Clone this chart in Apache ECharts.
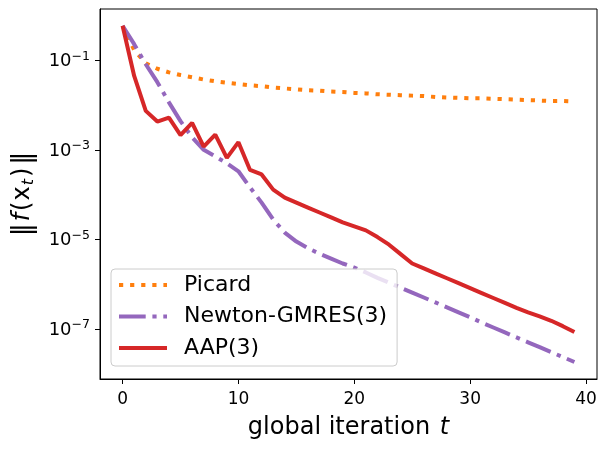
<!DOCTYPE html>
<html>
<head>
    <meta charset="utf-8">
    <title>residual</title>
    <script src="https://cdn.jsdelivr.net/npm/echarts@6/dist/echarts.min.js"></script>
    <style>
        html, body { margin: 0; padding: 0; background: #fff; }
        #chart1 { width: 607px; height: 451px; }
    </style>
</head>
<body>
<div id="chart1"></div>
<script type="text/javascript">
    // global iteration t
    const iterations = [0, 1, 2, 3, 4, 5, 6, 7, 8, 9, 10, 11, 12, 13, 14, 15, 16, 17, 18, 19,
        20, 21, 22, 23, 24, 25, 26, 27, 28, 29, 30, 31, 32, 33, 34, 35, 36, 37, 38, 39];

    // log10 ||f(x_t)||
    const picardLog = [-0.23, -0.77, -1.07, -1.19, -1.27, -1.33, -1.38, -1.43, -1.47, -1.50,
        -1.53, -1.56, -1.58, -1.61, -1.63, -1.65, -1.67, -1.68, -1.70, -1.71,
        -1.73, -1.74, -1.76, -1.77, -1.78, -1.79, -1.80, -1.82, -1.83, -1.84,
        -1.85, -1.85, -1.86, -1.87, -1.88, -1.89, -1.90, -1.91, -1.91, -1.92];
    const newtonLog = [-0.23, -0.64, -1.09, -1.49, -1.94, -2.36, -2.72, -3.00, -3.15, -3.30,
        -3.48, -3.84, -4.18, -4.56, -4.85, -5.05, -5.20, -5.32, -5.43, -5.54,
        -5.63, -5.74, -5.86, -5.97, -6.08, -6.19, -6.30, -6.41, -6.52, -6.63,
        -6.74, -6.86, -6.97, -7.08, -7.19, -7.30, -7.41, -7.52, -7.63, -7.74];
    const aapLog = [-0.23, -1.35, -2.13, -2.37, -2.28, -2.67, -2.40, -2.93, -2.66, -3.18,
        -2.83, -3.45, -3.55, -3.89, -4.07, -4.18, -4.29, -4.40, -4.51, -4.62,
        -4.71, -4.80, -4.95, -5.12, -5.33, -5.54, -5.65, -5.76, -5.87, -5.98,
        -6.09, -6.20, -6.31, -6.42, -6.53, -6.63, -6.72, -6.82, -6.94, -7.07];

    const xTicks = [0, 10, 20, 30, 40];
    const yTicks = [-7, -5, -3, -1];   // decades shown as 10^k

    const font = 'DejaVu Sans';

    function pairs(ys) {
        return iterations.map((t, i) => [t, ys[i]]);
    }

    let myChart1 = echarts.init(document.getElementById('chart1'), null, {renderer: 'canvas'});

    myChart1.setOption({
        animation: false,
        backgroundColor: '#fff',
        grid: {
            left: 100, right: 10, top: 9, bottom: 72,
            show: true, borderColor: '#000', borderWidth: 1, backgroundColor: 'transparent'
        },
        legend: {
            orient: 'vertical',
            left: 111, top: 269,
            padding: [5, 10, 7, 6],
            itemWidth: 48, itemHeight: 14, itemGap: 9.5,
            backgroundColor: 'rgba(255,255,255,0.8)',
            borderColor: '#cccccc', borderWidth: 1, borderRadius: 4,
            selectedMode: false,
            itemStyle: {opacity: 0},
            lineStyle: {width: 4},
            textStyle: {fontFamily: font, fontSize: 22, lineHeight: 22, color: '#000', padding: [0, 0, 0, 12]},
            data: ['Picard', 'Newton-GMRES(3)', 'AAP(3)']
        },
        xAxis: {
            type: 'value',
            min: -1.95, max: 40.95,
            name: 'global iteration {i|t}',
            nameLocation: 'middle',
            nameGap: 37,
            nameTextStyle: {
                fontFamily: font, fontSize: 24, color: '#000',
                rich: {i: {fontFamily: font, fontSize: 24, fontStyle: 'italic', color: '#000', padding: [0, 0, 0, 2]}}
            },
            axisLine: {show: true, onZero: false, lineStyle: {color: '#000', width: 1}},
            axisTick: {show: true, length: 5, lineStyle: {color: '#000', width: 1}, customValues: xTicks},
            axisLabel: {fontFamily: font, fontSize: 17, color: '#000', margin: 12, customValues: xTicks},
            splitLine: {show: false}
        },
        yAxis: {
            type: 'value',
            min: -8.12, max: 0.145,
            name: '{d|‖}{i|f}{p|(}x{t|t}{p|)}{d|‖}',
            nameLocation: 'middle',
            nameGap: 63,
            nameTextStyle: {
                fontFamily: font, fontSize: 24, color: '#000', lineHeight: 28,
                rich: {
                    d: {fontFamily: font, fontSize: 26, color: '#000', lineHeight: 28, padding: [0, 2, 0, 2]},
                    p: {fontFamily: font, fontSize: 24, color: '#000', lineHeight: 28, padding: [0, 1, 0, 1]},
                    i: {fontFamily: font, fontSize: 24, fontStyle: 'italic', color: '#000', lineHeight: 28, padding: [0, 1, 0, 0]},
                    t: {fontFamily: font, fontSize: 16, fontStyle: 'italic', color: '#000', verticalAlign: 'bottom', lineHeight: 16, padding: [0, 1, 0, 1]}
                }
            },
            axisLine: {show: true, onZero: false, lineStyle: {color: '#000', width: 1}},
            axisTick: {show: true, length: 5, lineStyle: {color: '#000', width: 1}, customValues: yTicks},
            axisLabel: {
                margin: 10,
                customValues: yTicks,
                formatter: function (v) {
                    return '{b|10}{s|\u2212' + Math.round(-v) + '}';
                },
                rich: {
                    b: {fontFamily: font, fontSize: 18, color: '#000', lineHeight: 21, verticalAlign: 'bottom'},
                    s: {fontFamily: font, fontSize: 12.5, color: '#000', lineHeight: 13, verticalAlign: 'top'}
                }
            },
            splitLine: {show: false}
        },
        series: [{
            name: 'Picard',
            type: 'line',
            data: pairs(picardLog),
            symbol: 'none',
            color: '#ff7f0e',
            lineStyle: {color: '#ff7f0e', width: 4, type: [4.2, 6.9], cap: 'butt'}
        }, {
            name: 'Newton-GMRES(3)',
            type: 'line',
            data: pairs(newtonLog),
            symbol: 'none',
            color: '#9467bd',
            lineStyle: {color: '#9467bd', width: 4, type: [26.7, 6.7, 4.2, 6.7], cap: 'butt'}
        }, {
            name: 'AAP(3)',
            type: 'line',
            data: pairs(aapLog),
            symbol: 'none',
            color: '#d62728',
            lineStyle: {color: '#d62728', width: 4}
        }]
    });
</script>
</body>
</html>
